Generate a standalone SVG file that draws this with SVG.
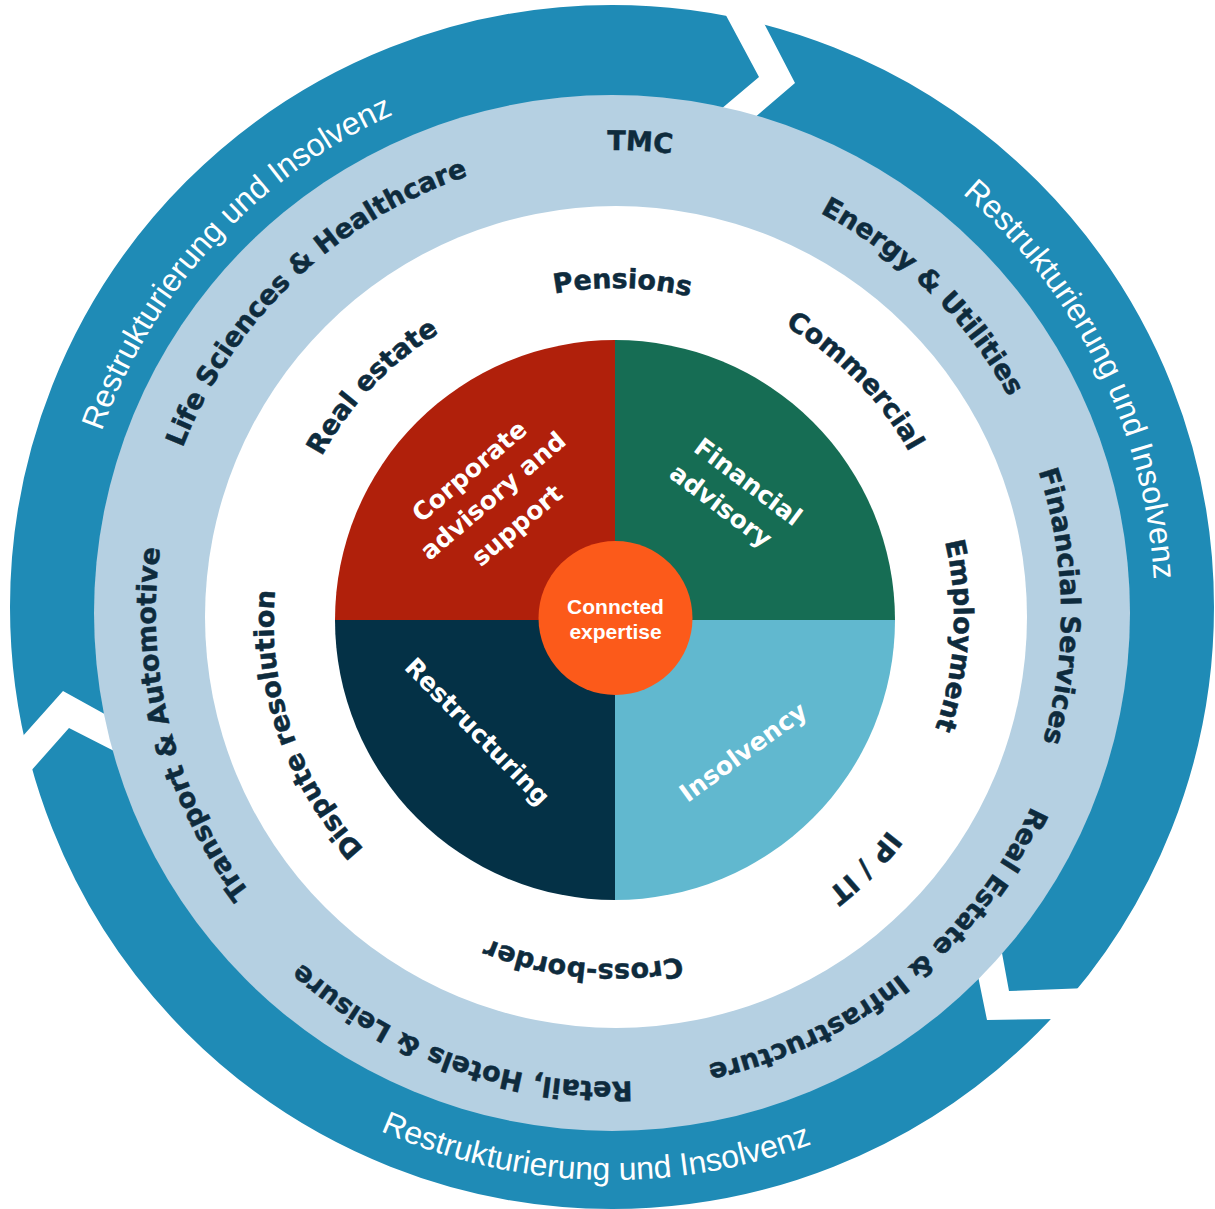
<svg xmlns="http://www.w3.org/2000/svg" width="1215" height="1209" viewBox="0 0 1215 1209">
<style>
.lbl{font-family:"DejaVu Sans","Liberation Sans",sans-serif;font-weight:bold;font-size:27px;fill:#0e2b3d;stroke:#0e2b3d;stroke-width:0.5}
.cyc{font-family:"Liberation Sans",Arial,sans-serif;font-size:32px;fill:#ffffff}
.quad{font-family:"DejaVu Sans","Liberation Sans",sans-serif;font-weight:bold;font-size:25px;fill:#ffffff;text-anchor:middle}
.ctr{font-family:"Liberation Sans",Arial,sans-serif;font-weight:bold;font-size:21px;fill:#ffffff;text-anchor:middle}
.gap{fill:#ffffff}
</style>
<defs>
<path id="arcD" d="M70.36,512.49 A550,550 0 0 1 1153.64,512.49"/>
<path id="arcDb" d="M48.69,707.33 A572,572 0 0 0 1175.31,707.33"/>
<path id="arcL" d="M156.05,533.43 A464,464 0 0 1 1069.95,533.43"/>
<path id="arcW" d="M291,560.87 A329,329 0 0 1 939,560.87"/>
</defs>
<rect width="1215" height="1209" fill="#ffffff"/>

<g id="cycle-arrows">
<circle cx="612" cy="607" r="553.5" fill="none" stroke="#1f8bb6" stroke-width="97"/>
<polygon class="gap" points="714,-7 729,21 759,77 727,104 695,131 725,143 760,113 795,83 767,29 753,2"/>
<polygon class="gap" points="0,806 30,772 69,728 118,753 148,768 140,733 110,717 63,691 22,737 2,760"/>
<polygon class="gap" points="1128,986 1088,988 1009,991 1002,953 998,933 975,961 979,981 987,1020 1057,1019 1113,1018"/>
</g>

<g id="ring-industries">
<circle cx="612" cy="613" r="518" fill="#b5d0e2"/>
</g>

<g id="ring-practice">
<circle cx="616" cy="617" r="411" fill="#ffffff"/>
</g>

<g id="cycle-labels">
<g transform="rotate(312.6 612 608) translate(0 11)"><text class="cyc"><textPath href="#arcD" startOffset="50%" text-anchor="middle">Restrukturierung und Insolvenz</textPath></text></g>
<g transform="rotate(63.6 612 608) translate(0 8)"><text class="cyc"><textPath href="#arcD" startOffset="50%" text-anchor="middle">Restrukturierung und Insolvenz</textPath></text></g>
<g transform="rotate(1.7 612 608)"><text class="cyc"><textPath href="#arcDb" startOffset="50%" text-anchor="middle">Restrukturierung und Insolvenz</textPath></text></g>
</g>

<g id="industry-labels">
<g id="n-tmc" transform="rotate(3.3 613 614)"><text class="lbl"><textPath href="#arcL" startOffset="50%" text-anchor="middle">TMC</textPath></text></g>
<g id="n-energy" transform="rotate(44.3 613 614) translate(0 13)"><text class="lbl"><textPath href="#arcL" startOffset="50%" text-anchor="middle">Energy &amp; Utilities</textPath></text></g>
<g id="n-finserv" transform="rotate(89 613 614) translate(0 16)"><text class="lbl"><textPath href="#arcL" startOffset="50%" text-anchor="middle">Financial Services</textPath></text></g>
<g id="n-reinfra" transform="rotate(141.4 613 614) translate(0 4)"><text class="lbl"><textPath href="#arcL" startOffset="50%" text-anchor="middle">Real Estate &amp; Infrastructure</textPath></text></g>
<g id="n-retail" transform="rotate(199.7 613 614) translate(0 -4)"><text class="lbl"><textPath href="#arcL" startOffset="50%" text-anchor="middle">Retail, Hotels &amp; Leisure</textPath></text></g>
<g id="n-transport" transform="rotate(255.4 613 614) translate(0 7)"><text class="lbl"><textPath href="#arcL" startOffset="50%" text-anchor="middle">Transport &amp; Automotive</textPath></text></g>
<g id="n-life" transform="rotate(316.4 613 614) translate(0 3)"><text class="lbl"><textPath href="#arcL" startOffset="50%" text-anchor="middle">Life Sciences &amp; Healthcare</textPath></text></g>
</g>

<g id="practice-labels">
<g id="n-pensions" transform="rotate(1.3 615 618) translate(0 -1)"><text class="lbl"><textPath href="#arcW" startOffset="50%" text-anchor="middle">Pensions</textPath></text></g>
<g id="n-commercial" transform="rotate(45.4 615 618) translate(0 -9)"><text class="lbl"><textPath href="#arcW" startOffset="50%" text-anchor="middle">Commercial</textPath></text></g>
<g id="n-employment" transform="rotate(93 615 618) translate(0 -10)"><text class="lbl"><textPath href="#arcW" startOffset="50%" text-anchor="middle">Employment</textPath></text></g>
<g id="n-ipit" transform="rotate(135 615 618) translate(0 -17)"><text class="lbl"><textPath href="#arcW" startOffset="50%" text-anchor="middle">IP / IT</textPath></text></g>
<g id="n-crossborder" transform="rotate(185.3 615 618) translate(0 -17)"><text class="lbl"><textPath href="#arcW" startOffset="50%" text-anchor="middle">Cross-border</textPath></text></g>
<g id="n-dispute" transform="rotate(251 615 618) translate(0 -13)"><text class="lbl"><textPath href="#arcW" startOffset="50%" text-anchor="middle">Dispute resolution</textPath></text></g>
<g id="n-realestate" transform="rotate(313.6 615 618) translate(0 -6)"><text class="lbl"><textPath href="#arcW" startOffset="50%" text-anchor="middle">Real estate</textPath></text></g>
</g>

<g id="quadrants">
<g id="n-corporate">
<path d="M615,620 L335,620 A280,280 0 0 1 615,340 Z" fill="#b0200b"/>
<g transform="translate(494,497) rotate(-40.5)"><text class="quad"><tspan x="-2" y="-27">Corporate</tspan><tspan x="0" y="7">advisory and</tspan><tspan x="-1" y="45">support</tspan></text></g>
</g>
<g id="n-financial">
<path d="M615,620 L615,340 A280,280 0 0 1 895,620 Z" fill="#166d54"/>
<g transform="translate(734,494.5) rotate(37)"><text class="quad"><tspan x="3.7" y="-10">Financial</tspan><tspan x="-3.7" y="25.5">advisory</tspan></text></g>
</g>
<g id="n-insolvency">
<path d="M615,620 L895,620 A280,280 0 0 1 615,900 Z" fill="#61b8cf"/>
<g transform="translate(743.5,752.5) rotate(-36)"><text class="quad" y="8">Insolvency</text></g>
</g>
<g id="n-restructuring">
<path d="M615,620 L615,900 A280,280 0 0 1 335,620 Z" fill="#043146"/>
<g transform="translate(477,732) rotate(45.5)"><text class="quad" y="8">Restructuring</text></g>
</g>
</g>

<g id="n-center">
<circle cx="615.5" cy="618" r="77" fill="#fc5a1a"/>
<text class="ctr" x="615.5" y="614">Conncted</text>
<text class="ctr" x="615.5" y="639">expertise</text>
</g>
</svg>
